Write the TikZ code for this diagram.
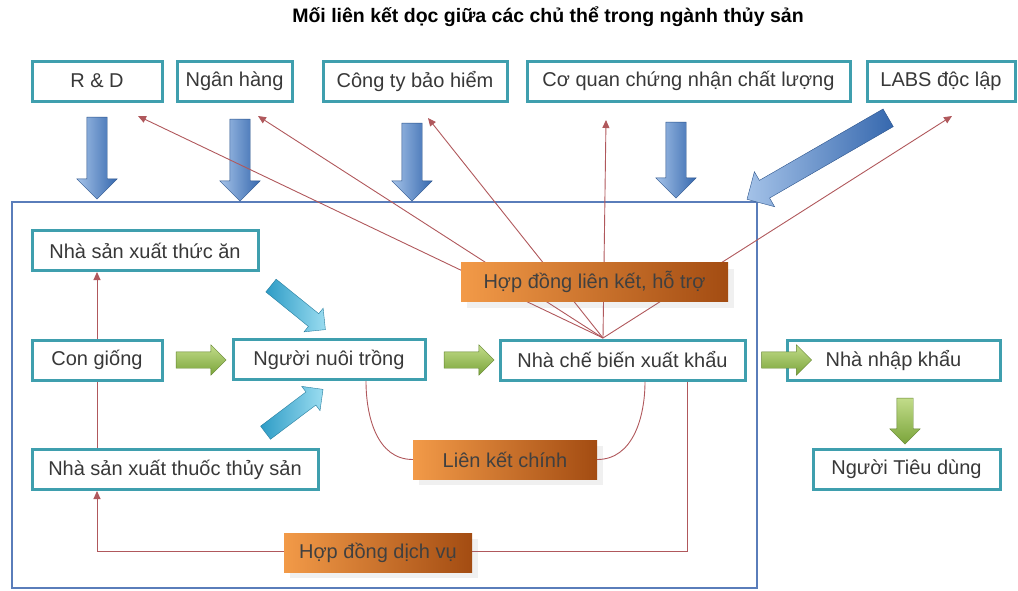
\documentclass[tikz,border=0pt]{standalone}
\usepackage{fontspec}
\setmainfont{Liberation Sans}
\usepackage{tikz}
\usetikzlibrary{shapes.arrows,arrows.meta,shadows}
\definecolor{boxline}{HTML}{3F9FAE}
\definecolor{frameblue}{HTML}{5A7DBA}
\definecolor{linkred}{HTML}{B0585C}
\definecolor{orangeL}{HTML}{F29A48}
\definecolor{orangeD}{HTML}{A34C12}
\definecolor{blueL}{HTML}{A4C2E8}
\definecolor{blueD}{HTML}{3668AE}
\definecolor{cyanL}{HTML}{9ADCF0}
\definecolor{cyanD}{HTML}{2E9CC6}
\definecolor{greenL}{HTML}{C2DC8A}
\definecolor{greenD}{HTML}{7AA43A}
\tikzset{box/.style={draw=boxline,line width=3pt,fill=white,minimum width=#1,minimum height=40pt,inner sep=0pt,text=black!78,font=\fontsize{20}{23}\selectfont}}
\tikzset{deal/.style={left color=orangeL,right color=orangeD,minimum width=#1,minimum height=39pt,inner sep=0pt,text=black!75,font=\fontsize{20}{23}\selectfont,drop shadow={opacity=.12,shadow xshift=6pt,shadow yshift=-6pt}}}
\tikzset{link/.style={draw=linkred,line width=0.9pt}}
\tikzset{edge/.style={link,-{Triangle[length=8pt,width=7pt]}}}
\tikzset{fat/.style={single arrow,inner xsep=0pt,minimum height=#1,line width=.4pt}}
\tikzset{bluearrow/.style={fat=#1,inner ysep=10pt,single arrow head extend=10pt,left color=blueL,right color=blueD,draw=blueD!80!black}}
\tikzset{cyanarrow/.style={fat=#1,inner ysep=8pt,single arrow head extend=7pt,left color=cyanD,right color=cyanL,draw=cyanD!80!black}}
\tikzset{greenarrow/.style={fat=#1,inner ysep=8pt,single arrow head extend=7pt,top color=greenL,bottom color=greenD,draw=greenD!80!black}}

\begin{document}
\begin{tikzpicture}[x=1pt,y=1pt]
  \useasboundingbox (0,0) rectangle (1018,-590);
  \node[font=\bfseries\fontsize{19.5}{23}\selectfont] (title) at (548,-17) {Mối liên kết dọc giữa các chủ thể trong ngành thủy sản};
  % top row
  \node[box=130] (rd) at (97,-81) {R \& D};
  \node[box=115] (bank) at (234.5,-81) {Ngân hàng};
  \node[box=184] (ins) at (415,-81) {Công ty bảo hiểm};
  \node[box=323] (qc) at (688.5,-81) {Cơ quan chứng nhận chất lượng};
  \node[box=148] (labs) at (941,-81) {LABS độc lập};
  % frame
  \node[draw=frameblue,line width=2.5pt,minimum width=745pt,minimum height=386pt] (frame) at (384.5,-395) {};
  \node[bluearrow=82pt,rotate=-90] (a1) at (97,-153) {};
  \node[bluearrow=82pt,rotate=-90] (a2) at (240,-155) {};
  \node[bluearrow=78pt,rotate=-90] (a3) at (412,-157) {};
  \node[bluearrow=76pt,rotate=-90] (a4) at (676,-155) {};
  \node[bluearrow=163pt,rotate=210] (a5) at (822,-156) {};
  % inner boxes
  \node[box=226] (feed) at (145,-250.5) {Nhà sản xuất thức ăn};
  \node[box=130] (seed) at (97,-360) {Con giống};
  \node[box=192] (farmer) at (329,-359.5) {Người nuôi trồng};
  \node[box=245] (proc) at (622.5,-360) {Nhà chế biến xuất khẩu};
  \node[box=213] (imp) at (893.5,-360) {Nhà nhập khẩu};
  \node[box=187] (cons) at (906.5,-469) {Người Tiêu dùng};
  \node[box=286] (drug) at (175,-469.5) {Nhà sản xuất thuốc thủy sản};
  % links from the processor
  \coordinate (hub) at (603,-338);
  \coordinate (t1) at (138,-116);
  \coordinate (t2) at (258,-116);
  \coordinate (t3) at (428,-118);
  \coordinate (t4) at (606,-120);
  \coordinate (t5) at (952,-116);
  \foreach \t in {t1,t2,t3,t4,t5}
    \draw[edge] (hub) -- (\t);
  \node[deal=267] (hd1) at (594.5,-282) {Hợp đồng liên kết, hỗ trợ};
  \draw[edge] (seed.north) -- (seed.north |- feed.south);
  \draw[link] (drug.north -| seed) -- (seed.south);
  \node[deal=184] (lkc) at (505,-459.5) {Liên kết chính};
  \draw[link] (farmer.south -| 366,0) to[out=-90,in=180] (lkc.west);
  \draw[link] (proc.south -| 645,0) to[out=-90,in=0] (lkc.east);
  \coordinate (c1) at (687,-551);
  \coordinate (c2) at (97,-551);
  \draw[edge] (proc.south -| c1) -- (c1) -- (c2) -- (drug.south -| c2);
  \node[deal=188] (hd2) at (378,-552.5) {Hợp đồng dịch vụ};
  % flow arrows
  \node[greenarrow=50pt] (g1) at (197,-360) {};
  \node[greenarrow=50pt] (g2) at (465,-360) {};
  \node[greenarrow=50pt] (g3) at (782.5,-360) {};
  \node[greenarrow=46pt,rotate=-90] (g4) at (905,-417) {};
  \node[cyanarrow=70pt,rotate=-39] (c3) at (295,-305) {};
  \node[cyanarrow=72pt,rotate=37] (c4) at (291,-413.5) {};
\end{tikzpicture}
\end{document}
